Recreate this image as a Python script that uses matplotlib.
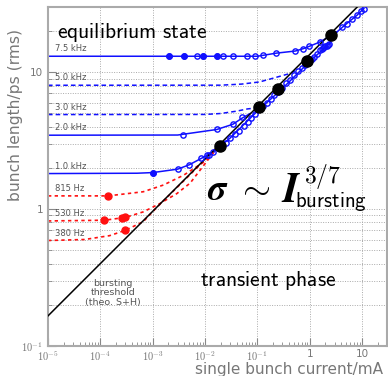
import matplotlib
matplotlib.use("Agg")
import matplotlib.pyplot as plt
from matplotlib.ticker import FixedLocator, NullFormatter

plt.rcParams["mathtext.fontset"] = "cm"

# ---------- data (current in mA, bunch length in ps) ----------

# theoretical bursting threshold (straight line in log-log)
threshold_current = [1e-5, 8.1]
threshold_sigma = [0.166, 30.0]

# black dots on the threshold
dots_current = [0.0195, 0.108, 0.25, 0.9, 2.58]
dots_sigma = [2.88, 5.55, 7.5, 12.0, 18.6]

# common blue fit above threshold
burst_fit_current = [0.012, 0.03, 0.1, 0.3, 1.0, 2.3, 3.3, 5.1, 8.0, 11.5]
burst_fit_sigma = [2.48, 3.3, 5.2, 7.6, 12.0, 16.0, 19.7, 22.7, 26.1, 30.0]

# blue measurements in the bursting regime
burst_current = [0.0085, 0.012, 0.014, 0.02, 0.025, 0.03, 0.038, 0.045, 0.055,
                 0.065, 0.075, 0.09, 0.11, 0.13, 0.15, 0.18, 0.21, 0.25, 0.3,
                 0.36, 0.42, 0.5, 0.6, 0.7, 0.8, 0.9, 1.0, 1.1, 1.2, 1.4, 1.6,
                 1.7, 1.8, 1.9, 2.0, 2.1, 2.2, 2.3, 4.2, 5.1, 6.5, 8.0, 9.5, 10.7]
burst_sigma = [2.35, 2.5, 2.6, 2.85, 3.05, 3.3, 3.55, 3.75, 4.05,
               4.35, 4.6, 4.95, 5.35, 5.7, 6.0, 6.4, 6.8, 7.2, 7.7,
               8.3, 8.8, 9.5, 10.2, 10.8, 11.3, 11.8, 12.2, 12.6, 13.0, 13.7, 14.6,
               14.9, 15.1, 15.3, 15.5, 15.6, 15.8, 16.0, 21.5, 22.7, 24.5, 26.1, 28.0, 29.2]

# equilibrium curves, one per synchrotron frequency
f75_current = [1e-5, 0.1, 0.23, 0.53, 0.76, 0.99, 1.54, 2.6, 3.3]
f75_sigma = [13.1, 13.1, 13.8, 14.3, 14.9, 15.5, 16.6, 18.6, 19.7]
f75_pts_current = [0.00203, 0.00398, 0.00697, 0.00931, 0.0173, 0.0219, 0.034,
                   0.063, 0.092, 0.127, 0.229, 0.528, 0.76, 0.99, 1.54]
f75_pts_sigma = [13.1, 13.1, 13.1, 13.1, 13.1, 13.1, 13.1,
                 13.1, 13.2, 13.3, 13.8, 14.3, 14.9, 15.5, 16.6]

f50_current = [1e-5, 0.02, 0.05, 0.11, 0.17, 0.27, 0.42, 0.6]
f50_sigma = [8.04, 8.05, 8.2, 8.5, 8.9, 9.35, 9.8, 10.5]

f30_current = [1e-5, 0.01, 0.02, 0.04, 0.065, 0.1]
f30_sigma = [4.91, 4.92, 5.0, 5.2, 5.4, 5.5]

f20_current = [1e-5, 0.003, 0.0168, 0.034, 0.05, 0.073]
f20_sigma = [3.47, 3.48, 3.82, 4.17, 4.6, 5.0]
f20_pts_current = [0.00386, 0.0168, 0.034, 0.0506]
f20_pts_sigma = [3.5, 3.82, 4.17, 4.72]

f10_current = [1e-5, 0.0005, 0.001, 0.003, 0.005, 0.0111, 0.015]
f10_sigma = [1.82, 1.83, 1.85, 1.96, 2.11, 2.48, 2.62]
f10_pts_current = [0.001, 0.003, 0.005, 0.0111]
f10_pts_sigma = [1.85, 1.96, 2.11, 2.48]

f815_current = [1e-5, 1.4e-4, 6.6e-4, 0.0016, 0.0039, 0.0108, 0.018]
f815_sigma = [1.25, 1.25, 1.34, 1.5, 1.77, 2.28, 2.9]
f815_pts_current = [1.42e-4]
f815_pts_sigma = [1.24]

f530_current = [1e-5, 1.2e-4, 3.0e-4, 6.6e-4, 1.38e-3, 2.9e-3, 5.2e-3, 0.018]
f530_sigma = [0.82, 0.83, 0.87, 0.955, 1.1, 1.3, 1.55, 2.88]
f530_pts_current = [1.18e-4, 2.6e-4, 3.0e-4]
f530_pts_sigma = [0.83, 0.855, 0.88]

f380_current = [1e-5, 5e-5, 1.5e-4, 3.0e-4, 6.6e-4, 1.2e-3, 0.018]
f380_sigma = [0.59, 0.6, 0.64, 0.70, 0.81, 1.03, 2.86]
f380_pts_current = [3.0e-4]
f380_pts_sigma = [0.70]

freq_labels = ["7.5 kHz", "5.0 kHz", "3.0 kHz", "2.0 kHz", "1.0 kHz",
               "815 Hz", "530 Hz", "380 Hz"]
freq_levels = [13.1, 8.04, 4.91, 3.47, 1.82, 1.25, 0.82, 0.59]

x_ticks = [1e-5, 1e-4, 1e-3, 1e-2, 1e-1, 1, 10]
x_ticklabels = [r"$10^{-5}$", r"$10^{-4}$", r"$10^{-3}$", r"$10^{-2}$",
                r"$10^{-1}$", "1", "10"]
y_ticks = [0.1, 1, 10]
y_ticklabels = [r"$10^{-1}$", "1", "10"]

BLUE = "#1010ff"
RED = "#ff1010"
GRAY = "#777777"

# ---------- figure ----------

fig = plt.figure(figsize=(3.88, 3.76), dpi=100)
ax = fig.add_axes([48 / 388, 30 / 376, 339 / 388, 339 / 376])
ax.set_xscale("log")
ax.set_yscale("log")
ax.set_xlim(1e-5, 30)
ax.set_ylim(0.1, 30)

# grid: vertical at decades only, horizontal at every minor step
minor_y = [m * 10.0 ** e for e in (-1, 0, 1) for m in range(2, 10) if m * 10.0 ** e < 30]
for x in x_ticks[1:]:
    ax.axvline(x, color="#aaaaaa", lw=0.7, ls=(0, (1, 1.5)), zorder=0)
for y in y_ticks[1:] + minor_y:
    ax.axhline(y, color="#aaaaaa", lw=0.7, ls=(0, (1, 1.5)), zorder=0)

# threshold and fits
ax.plot(threshold_current, threshold_sigma, color="black", lw=1.1, zorder=3)
ax.plot(burst_fit_current, burst_fit_sigma, color=BLUE, lw=1.1, zorder=2)

solid = dict(color=BLUE, lw=1.1, zorder=2)
dashed = dict(color=BLUE, lw=1.1, ls=(0, (3, 2)), zorder=2)
dotted = dict(color=RED, lw=1.2, ls=(0, (2, 2)), zorder=2)
ax.plot(f75_current, f75_sigma, **solid)
ax.plot(f50_current, f50_sigma, **dashed)
ax.plot(f30_current, f30_sigma, **dashed)
ax.plot(f20_current, f20_sigma, **solid)
ax.plot(f10_current, f10_sigma, **solid)
ax.plot(f815_current, f815_sigma, **dotted)
ax.plot(f530_current, f530_sigma, **dotted)
ax.plot(f380_current, f380_sigma, **dotted)

# measured points
open_pts = dict(ls="none", marker="o", ms=3.8, mfc="none", mec=BLUE, mew=1.0, zorder=4)
ax.plot(burst_current, burst_sigma, **open_pts)
ax.plot(f75_pts_current, f75_pts_sigma, **open_pts)
ax.plot(f20_pts_current, f20_pts_sigma, **open_pts)
ax.plot(f10_pts_current, f10_pts_sigma, **open_pts)
ax.plot(f75_pts_current[:2] + f75_pts_current[3:5], f75_pts_sigma[:2] + f75_pts_sigma[3:5],
        ls="none", marker="o", ms=3.8, color=BLUE, zorder=4)
ax.plot(f10_pts_current[:1], f10_pts_sigma[:1], ls="none", marker="o", ms=3.8,
        color=BLUE, zorder=4)

red_pts = dict(ls="none", marker="o", ms=5, color=RED, zorder=4)
ax.plot(f815_pts_current, f815_pts_sigma, **red_pts)
ax.plot(f530_pts_current, f530_pts_sigma, **red_pts)
ax.plot(f380_pts_current, f380_pts_sigma, **red_pts)

ax.plot(dots_current, dots_sigma, ls="none", marker="o", ms=8, color="black", zorder=5)

# frequency labels just above each curve
for label, level in zip(freq_labels, freq_levels):
    ax.text(1.35e-5, level * 1.05, label, fontsize=6, color="#555555",
            ha="left", va="bottom", zorder=6)

ax.text(1.75e-4, 0.244, "bursting\nthreshold\n(theo. S+H)", fontsize=6.8,
        color="#555555", ha="center", va="center", linespacing=1.05)

# annotations
ax.text(0.027, 0.909, r"$\mathsf{equilibrium\ state}$", transform=ax.transAxes,
        fontsize=15.5, ha="left", va="baseline")
ax.text(0.448, 0.177, r"$\mathsf{transient\ phase}$", transform=ax.transAxes,
        fontsize=15.5, ha="left", va="baseline")
ax.text(0.469, 0.431, r"$\boldsymbol{\sigma}\ \sim$", transform=ax.transAxes,
        fontsize=26, ha="left", va="baseline")
ax.text(0.688, 0.425, r"$\boldsymbol{I}$", transform=ax.transAxes,
        fontsize=30, ha="left", va="baseline")
ax.text(0.755, 0.482, r"$\mathsf{\mathbf{3/7}}$", transform=ax.transAxes,
        fontsize=17, ha="left", va="baseline")
ax.text(0.730, 0.410, r"$\mathsf{bursting}$", transform=ax.transAxes,
        fontsize=15, ha="left", va="baseline")

# axes styling
ax.xaxis.set_major_locator(FixedLocator(x_ticks))
ax.set_xticklabels(x_ticklabels)
ax.yaxis.set_major_locator(FixedLocator(y_ticks))
ax.set_yticklabels(y_ticklabels)
ax.xaxis.set_minor_formatter(NullFormatter())
ax.yaxis.set_minor_formatter(NullFormatter())
ax.tick_params(which="both", direction="in", colors="#888888", labelcolor=GRAY,
               labelsize=7.5, top=False, right=False)
ax.tick_params(axis="x", which="major", pad=2.5)
ax.tick_params(which="major", length=6)
ax.tick_params(which="minor", length=3)
for spine in ax.spines.values():
    spine.set_color("#aaaaaa")
    spine.set_linewidth(1.5)

ax.set_ylabel("bunch length/ps (rms)", fontsize=11.2, color=GRAY)
ax.yaxis.set_label_coords(-0.075, 0.68)
ax.set_xlabel("single bunch current/mA", fontsize=11, color=GRAY)
ax.xaxis.set_label_coords(0.71, -0.046)

fig.savefig("out.png", dpi=100)
